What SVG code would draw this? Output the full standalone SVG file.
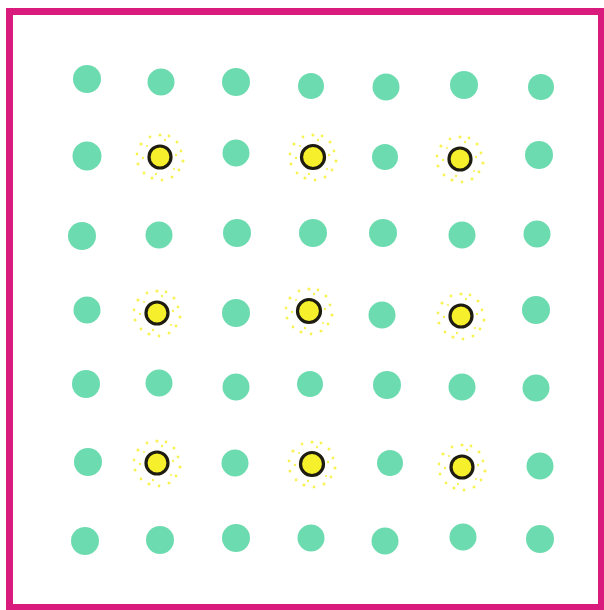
<svg xmlns="http://www.w3.org/2000/svg" xmlns:xlink="http://www.w3.org/1999/xlink" width="604" height="610" viewBox="0 0 604 610">
<style>
.g{fill:#6ddbb0}
.y{fill:#f6ef2c;stroke:#1e1c10;stroke-width:3.2}
.sp{fill:#f8f255}
</style>
<defs>
<g id="spark">
<circle class="sp" cx="0" cy="-22" r="1.6"/>
<circle class="sp" cx="9" cy="-21" r="1.4"/>
<circle class="sp" cx="17" cy="-15" r="1.5"/>
<circle class="sp" cx="21" cy="-6" r="1.4"/>
<circle class="sp" cx="23" cy="4" r="1.6"/>
<circle class="sp" cx="19" cy="13" r="1.4"/>
<circle class="sp" cx="12" cy="20" r="1.5"/>
<circle class="sp" cx="2" cy="23" r="1.4"/>
<circle class="sp" cx="-8" cy="21" r="1.6"/>
<circle class="sp" cx="-16" cy="16" r="1.4"/>
<circle class="sp" cx="-22" cy="7" r="1.5"/>
<circle class="sp" cx="-23" cy="-3" r="1.4"/>
<circle class="sp" cx="-19" cy="-13" r="1.6"/>
<circle class="sp" cx="-10" cy="-20" r="1.4"/>
<circle class="sp" cx="5" cy="-17" r="1.2"/>
<circle class="sp" cx="16" cy="-2" r="1.2"/>
<circle class="sp" cx="-4" cy="17" r="1.2"/>
<circle class="sp" cx="-17" cy="1" r="1.2"/>
<circle class="sp" cx="14" cy="12" r="1.1"/>
<circle class="sp" cx="-13" cy="-11" r="1.1"/>
</g>
</defs>
<rect x="0" y="0" width="604" height="610" fill="#ffffff"/>
<g id="frame">
<rect x="9.5" y="11.5" width="592" height="596" fill="none" stroke="#d81b7c" stroke-width="7"/>
</g>
<g id="green-dots">
<circle class="g" cx="87" cy="79" r="14"/>
<circle class="g" cx="161" cy="82" r="13.5"/>
<circle class="g" cx="236" cy="82" r="14"/>
<circle class="g" cx="311" cy="86" r="13"/>
<circle class="g" cx="386" cy="87" r="13.5"/>
<circle class="g" cx="464" cy="85" r="14"/>
<circle class="g" cx="541" cy="87" r="13"/>

<circle class="g" cx="87" cy="156" r="14.5"/>
<circle class="g" cx="236" cy="153" r="13.5"/>
<circle class="g" cx="385" cy="157" r="13"/>
<circle class="g" cx="539" cy="155" r="14"/>

<circle class="g" cx="82" cy="236" r="14"/>
<circle class="g" cx="159" cy="235" r="13.5"/>
<circle class="g" cx="237" cy="233" r="14"/>
<circle class="g" cx="313" cy="233" r="14"/>
<circle class="g" cx="383" cy="233" r="14"/>
<circle class="g" cx="462" cy="235" r="13.5"/>
<circle class="g" cx="537" cy="234" r="13.5"/>

<circle class="g" cx="87" cy="310" r="13.5"/>
<circle class="g" cx="236" cy="313" r="14"/>
<circle class="g" cx="382" cy="315" r="13.5"/>
<circle class="g" cx="536" cy="310" r="14"/>

<circle class="g" cx="86" cy="384" r="14"/>
<circle class="g" cx="159" cy="383" r="13.5"/>
<circle class="g" cx="236" cy="387" r="13.5"/>
<circle class="g" cx="310" cy="384" r="13"/>
<circle class="g" cx="387" cy="385" r="14"/>
<circle class="g" cx="462" cy="387" r="13.5"/>
<circle class="g" cx="536" cy="388" r="13.5"/>

<circle class="g" cx="88" cy="462" r="14"/>
<circle class="g" cx="235" cy="463" r="13.5"/>
<circle class="g" cx="390" cy="463" r="13"/>
<circle class="g" cx="540" cy="466" r="13.5"/>

<circle class="g" cx="85" cy="541" r="14"/>
<circle class="g" cx="160" cy="540" r="14"/>
<circle class="g" cx="236" cy="538" r="14"/>
<circle class="g" cx="311" cy="538" r="13.5"/>
<circle class="g" cx="385" cy="541" r="13.5"/>
<circle class="g" cx="463" cy="537" r="13.5"/>
<circle class="g" cx="540" cy="539" r="14"/>
</g>
<g id="yellow-dots">
<use xlink:href="#spark" x="160" y="157"/>
<circle class="y" cx="160" cy="157" r="11"/>
<use xlink:href="#spark" x="313" y="157"/>
<circle class="y" cx="313" cy="157" r="11.5"/>
<use xlink:href="#spark" x="460" y="159"/>
<circle class="y" cx="460" cy="159" r="11"/>
<use xlink:href="#spark" x="157" y="313"/>
<circle class="y" cx="157" cy="313" r="11"/>
<use xlink:href="#spark" x="309" y="311"/>
<circle class="y" cx="309" cy="311" r="11.5"/>
<use xlink:href="#spark" x="461" y="316"/>
<circle class="y" cx="461" cy="316" r="11"/>
<use xlink:href="#spark" x="157" y="463"/>
<circle class="y" cx="157" cy="463" r="11"/>
<use xlink:href="#spark" x="312" y="464"/>
<circle class="y" cx="312" cy="464" r="11.5"/>
<use xlink:href="#spark" x="462" y="467"/>
<circle class="y" cx="462" cy="467" r="11"/>
</g>
</svg>
